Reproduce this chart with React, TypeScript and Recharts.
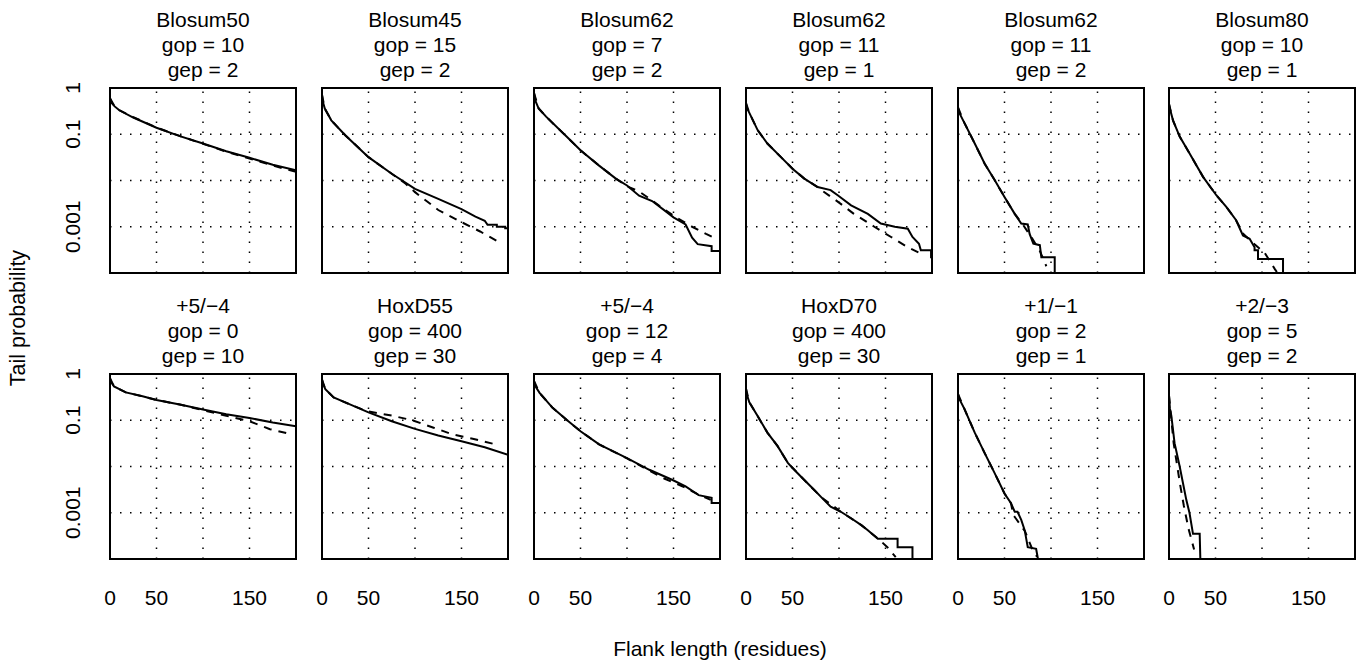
import React from 'react';
import {
  LineChart,
  Line,
  XAxis,
  YAxis,
  ReferenceLine,
  ReferenceArea,
} from 'recharts';

// Panel titles (matrix / gap open / gap extend), row by row
const TITLES = ['Blosum50', 'Blosum45', 'Blosum62', 'Blosum62', 'Blosum62', 'Blosum80', '+5/−4', 'HoxD55', '+5/−4', 'HoxD70', '+1/−1', '+2/−3'];
const GOP = [10, 15, 7, 11, 11, 10, 0, 400, 12, 400, 2, 5];
const GEP = [2, 2, 2, 1, 2, 1, 10, 30, 4, 30, 1, 2];

const X_TICKS = [0, 50, 150];
const Y_TICKS = [0.001, 0.1, 1];
const X_GRID = [50, 100, 150];
const Y_GRID = [0.1, 0.01, 0.001];

// observed tail (solid) and fitted tail (dashed), per panel
const obsX1 = [0, 2, 5, 10, 25, 50, 75, 100, 125, 150, 175, 200];
const obsP1 = [0.6, 0.47, 0.4, 0.33, 0.23, 0.138, 0.091, 0.063, 0.043, 0.031, 0.022, 0.0166];
const fitX1 = [0, 5, 10, 25, 50, 75, 100, 125, 150, 175, 200];
const fitP1 = [0.6, 0.4, 0.33, 0.235, 0.14, 0.092, 0.062, 0.042, 0.03, 0.021, 0.0155];

const obsX2 = [0, 1, 3, 10, 25, 50, 75, 100, 125, 150, 165, 175, 178, 188, 188, 197, 197, 200];
const obsP2 = [0.71, 0.5, 0.36, 0.2, 0.095, 0.032, 0.014, 0.0066, 0.004, 0.0024, 0.00166, 0.00135, 0.0011, 0.0011, 0.001, 0.001, 0.00093, 0.00093];
const fitX2 = [0, 3, 10, 25, 50, 75, 90, 100, 125, 150, 170, 190];
const fitP2 = [0.71, 0.36, 0.2, 0.095, 0.032, 0.014, 0.0085, 0.0056, 0.0023, 0.00126, 0.00079, 0.00047];

const obsX3 = [0, 2, 5, 13, 35, 50, 70, 88, 100, 113, 127, 141, 150, 163, 170, 176, 191, 191, 200];
const obsP3 = [0.78, 0.5, 0.36, 0.24, 0.089, 0.045, 0.021, 0.011, 0.0078, 0.0047, 0.0036, 0.0022, 0.0016, 0.00112, 0.00058, 0.00042, 0.00038, 0.0003, 0.0003];
const fitX3 = [0, 5, 13, 35, 50, 70, 88, 100, 113, 127, 141, 155, 170, 185, 192];
const fitP3 = [0.78, 0.36, 0.24, 0.089, 0.045, 0.021, 0.011, 0.0075, 0.0058, 0.0037, 0.0023, 0.0015, 0.001, 0.0007, 0.0006];

const obsX4 = [0, 1, 3.6, 12.5, 23, 37.6, 50, 62.7, 77, 91, 98.6, 113, 131, 145, 160, 174, 179, 186, 188, 199, 199, 200];
const obsP4 = [0.47, 0.37, 0.29, 0.123, 0.063, 0.032, 0.018, 0.011, 0.0072, 0.0062, 0.0048, 0.0029, 0.0019, 0.00117, 0.001, 0.00091, 0.0006, 0.00043, 0.00031, 0.00031, 0.00022, 0.00022];
const fitX4 = [0, 3.6, 12.5, 23, 37.6, 50, 62.7, 77, 82, 98.6, 116, 138, 156, 174, 192];
const fitP4 = [0.47, 0.29, 0.123, 0.063, 0.032, 0.018, 0.011, 0.0072, 0.006, 0.0035, 0.0019, 0.001, 0.0006, 0.00036, 0.00024];

const obsX5 = [0, 1, 7, 18, 28.7, 39.4, 50, 61, 68, 75, 77, 81, 88, 89.6, 104, 104];
const obsP5 = [0.38, 0.3, 0.174, 0.063, 0.023, 0.0102, 0.0044, 0.0019, 0.00117, 0.00112, 0.0007, 0.00043, 0.0004, 0.00022, 0.00022, 0.0001];
const fitX5 = [0, 7, 18, 28.7, 39.4, 50, 61, 70, 80, 88, 95];
const fitP5 = [0.38, 0.174, 0.063, 0.023, 0.0102, 0.0044, 0.0019, 0.0011, 0.00055, 0.0003, 0.00014];

const obsX6 = [0, 1, 4.3, 11.5, 22, 36.6, 50.9, 61.6, 72, 79.5, 86.7, 92, 92, 95.7, 95.7, 122.6, 122.6];
const obsP6 = [0.45, 0.355, 0.2, 0.089, 0.039, 0.012, 0.0048, 0.0027, 0.0014, 0.00065, 0.00055, 0.00036, 0.00031, 0.00031, 0.0002, 0.0002, 0.0001];
const fitX6 = [0, 4.3, 11.5, 22, 36.6, 50.9, 61.6, 72, 80, 92, 103, 114, 116];
const fitP6 = [0.45, 0.2, 0.089, 0.039, 0.012, 0.0048, 0.0027, 0.0014, 0.0007, 0.00042, 0.00027, 0.00012, 0.000105];

const obsX7 = [0, 1, 4.3, 17, 35, 50, 75, 100, 125, 150, 175, 200];
const obsP7 = [0.81, 0.68, 0.54, 0.4, 0.33, 0.275, 0.219, 0.17, 0.135, 0.112, 0.089, 0.074];
const fitX7 = [0, 4.3, 17, 35, 50, 75, 100, 125, 150, 172, 193];
const fitP7 = [0.81, 0.54, 0.4, 0.33, 0.275, 0.219, 0.165, 0.125, 0.095, 0.064, 0.051];

const obsX8 = [0, 1, 3.6, 12.5, 30, 50, 75, 100, 125, 150, 175, 200];
const obsP8 = [0.76, 0.63, 0.47, 0.31, 0.22, 0.148, 0.095, 0.065, 0.047, 0.035, 0.026, 0.018];
const fitX8 = [0, 3.6, 12.5, 30, 48, 75, 97, 120, 141, 162, 184];
const fitP8 = [0.76, 0.47, 0.31, 0.22, 0.158, 0.126, 0.1, 0.069, 0.049, 0.04, 0.031];

const obsX9 = [0, 1, 6, 20, 35, 50, 70, 100, 124, 149, 163, 177, 191, 191, 200];
const obsP9 = [0.71, 0.56, 0.39, 0.186, 0.102, 0.058, 0.03, 0.0151, 0.0085, 0.0051, 0.0037, 0.0024, 0.0021, 0.00162, 0.00162];
const fitX9 = [0, 6, 20, 35, 50, 70, 100, 118, 140, 160, 175, 190];
const fitP9 = [0.71, 0.39, 0.186, 0.102, 0.058, 0.03, 0.015, 0.0095, 0.0055, 0.0037, 0.0026, 0.0019];

const obsX10 = [0, 1, 3.6, 12.5, 23, 34, 45, 50, 62.7, 73.5, 80.6, 91, 102, 113, 124, 131, 141.7, 163, 163, 179, 179];
const obsP10 = [0.48, 0.355, 0.245, 0.123, 0.054, 0.0275, 0.012, 0.0093, 0.0051, 0.0031, 0.0022, 0.00135, 0.00105, 0.00076, 0.00054, 0.00042, 0.000275, 0.000275, 0.00018, 0.00018, 0.0001];
const fitX10 = [0, 3.6, 12.5, 23, 34, 45, 62.7, 80.6, 102, 124, 141.7, 152, 161];
const fitP10 = [0.48, 0.245, 0.123, 0.054, 0.0275, 0.012, 0.0051, 0.0022, 0.00105, 0.00054, 0.00028, 0.00018, 0.00011];

const obsX11 = [0, 1, 7, 18, 28.7, 39.4, 50, 57, 61, 64, 68, 71.7, 75, 84, 86];
const obsP11 = [0.37, 0.3, 0.174, 0.054, 0.0195, 0.0072, 0.0026, 0.0016, 0.00105, 0.00105, 0.0007, 0.00042, 0.00018, 0.000166, 0.0001];
const fitX11 = [0, 7, 18, 28.7, 39.4, 50, 57, 59.5, 62, 72, 80, 85];
const fitP11 = [0.37, 0.174, 0.054, 0.0195, 0.0072, 0.0026, 0.0016, 0.00089, 0.00076, 0.0004, 0.00016, 0.000112];

const obsX12 = [0, 1, 2.5, 6, 11.5, 15, 18.6, 22, 25.8, 33, 33.7];
const obsP12 = [0.34, 0.178, 0.126, 0.032, 0.01, 0.0044, 0.0019, 0.001, 0.00035, 0.00035, 0.0001];
const fitX12 = [0, 5, 12, 16, 21, 27];
const fitP12 = [0.34, 0.032, 0.004, 0.0014, 0.00045, 0.00016];

const OBS_X = [obsX1, obsX2, obsX3, obsX4, obsX5, obsX6, obsX7, obsX8, obsX9, obsX10, obsX11, obsX12];
const OBS_P = [obsP1, obsP2, obsP3, obsP4, obsP5, obsP6, obsP7, obsP8, obsP9, obsP10, obsP11, obsP12];
const FIT_X = [fitX1, fitX2, fitX3, fitX4, fitX5, fitX6, fitX7, fitX8, fitX9, fitX10, fitX11, fitX12];
const FIT_P = [fitP1, fitP2, fitP3, fitP4, fitP5, fitP6, fitP7, fitP8, fitP9, fitP10, fitP11, fitP12];

// layout
const FONT = '"Liberation Sans", Arial, Helvetica, sans-serif';
const FRAME_LEFT = [110, 322, 534, 746, 958, 1169];
const FRAME_TOP = [88, 374];
const FRAME_W = 186;
const FRAME_H = 185;
const PAD_L = 62;
const PAD_R = 6;
const PAD_T = 14;
const PAD_B = 58;
const Y_AXIS_W = 40;
const X_AXIS_H = 40;

const toPoints = (xs: number[], ps: number[]) => xs.map((x, i) => ({ x, p: ps[i] }));

function YTick(props: any) {
  const { y, payload } = props;
  const tx = PAD_L - 30;
  return (
    <text
      x={tx}
      y={y}
      transform={`rotate(-90, ${tx}, ${y})`}
      textAnchor='middle'
      fontSize={21}
      fontFamily={FONT}
      fill='#000'
    >
      {String(payload.value)}
    </text>
  );
}

function XTick(props: any) {
  const { x, payload } = props;
  return (
    <text x={x} y={PAD_T + FRAME_H + 46} textAnchor='middle' fontSize={21} fontFamily={FONT} fill='#000'>
      {String(payload.value)}
    </text>
  );
}

function Panel({ idx }: { idx: number }) {
  const row = Math.floor(idx / 6);
  const col = idx % 6;
  const left = FRAME_LEFT[col];
  const top = FRAME_TOP[row];
  const obs = toPoints(OBS_X[idx], OBS_P[idx]);
  const fit = toPoints(FIT_X[idx], FIT_P[idx]);

  return (
    <>
      <div
        style={{
          position: 'absolute',
          left: left - 40,
          top: top - 81,
          width: FRAME_W + 80,
          textAlign: 'center',
          fontFamily: FONT,
          fontSize: 21,
          lineHeight: '25px',
          color: '#000',
        }}
      >
        <div>{TITLES[idx]}</div>
        <div>gop = {GOP[idx]}</div>
        <div>gep = {GEP[idx]}</div>
      </div>
      <div style={{ position: 'absolute', left: left - PAD_L, top: top - PAD_T }}>
        <LineChart
          width={PAD_L + FRAME_W + PAD_R}
          height={PAD_T + FRAME_H + PAD_B}
          margin={{ top: PAD_T, right: PAD_R, left: PAD_L - Y_AXIS_W, bottom: PAD_B - X_AXIS_H }}
        >
          <XAxis
            dataKey='x'
            type='number'
            domain={[0, 200]}
            ticks={X_TICKS}
            interval={0}
            height={X_AXIS_H}
            axisLine={false}
            tickLine={false}
            allowDataOverflow
            tick={row === 1 ? <XTick /> : false}
          />
          <YAxis
            type='number'
            scale='log'
            domain={[0.0001, 1]}
            ticks={Y_TICKS}
            interval={0}
            width={Y_AXIS_W}
            axisLine={false}
            tickLine={false}
            allowDataOverflow
            tick={col === 0 ? <YTick /> : false}
          />
          {X_GRID.map((v) => (
            <ReferenceLine key={`gx${v}`} x={v} stroke='#000' strokeWidth={1.5} strokeDasharray='1.5 8.5' />
          ))}
          {Y_GRID.map((v) => (
            <ReferenceLine key={`gy${v}`} y={v} stroke='#000' strokeWidth={1.5} strokeDasharray='1.5 8.5' />
          ))}
          <Line
            data={fit}
            dataKey='p'
            type='linear'
            stroke='#000'
            strokeWidth={2}
            strokeDasharray='8 7'
            dot={false}
            activeDot={false}
            isAnimationActive={false}
          />
          <Line
            data={obs}
            dataKey='p'
            type='linear'
            stroke='#000'
            strokeWidth={2}
            dot={false}
            activeDot={false}
            isAnimationActive={false}
          />
          <ReferenceArea x1={0} x2={200} y1={0.0001} y2={1} fill='none' fillOpacity={0} stroke='#000' strokeWidth={2} />
        </LineChart>
      </div>
    </>
  );
}

export default function App() {
  return (
    <div
      style={{
        position: 'absolute',
        left: 0,
        top: 0,
        width: 1358,
        height: 662,
        background: '#fff',
        overflow: 'hidden',
        fontFamily: FONT,
      }}
    >
      {TITLES.map((_, i) => (
        <Panel key={i} idx={i} />
      ))}
      <div
        style={{
          position: 'absolute',
          left: 18 - 100,
          top: 318 - 12,
          width: 200,
          height: 24,
          lineHeight: '24px',
          fontSize: 21.5,
          textAlign: 'center',
          color: '#000',
          transform: 'rotate(-90deg)',
        }}
      >
        Tail probability
      </div>
      <div
        style={{
          position: 'absolute',
          left: 520,
          top: 637,
          width: 400,
          lineHeight: '24px',
          fontSize: 21,
          textAlign: 'center',
          color: '#000',
        }}
      >
        Flank length (residues)
      </div>
    </div>
  );
}
